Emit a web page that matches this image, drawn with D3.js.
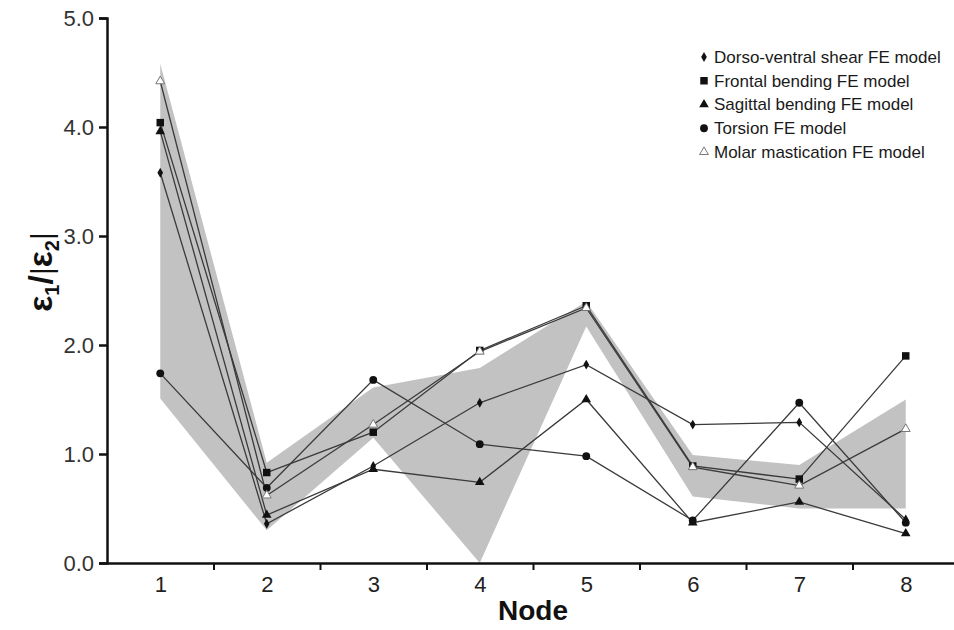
<!doctype html>
<html lang="en">
<head>
    <meta charset="utf-8">
    <title>Strain ratio per node</title>
    <script src="https://cdnjs.cloudflare.com/ajax/libs/d3/7.8.5/d3.min.js" type="text/JavaScript"></script>
    <style>
        body { margin: 0; background: #fff; }
        svg { display: block; }
    </style>
</head>
<body>
<div id="chart"></div>
<script>

    // nodes along the x axis
    const nodes = [1, 2, 3, 4, 5, 6, 7, 8];

    // series values
    const dorsoVentral = [3.58, 0.36, 0.89, 1.47, 1.82, 1.27, 1.29, 0.40];
    const frontal      = [4.04, 0.83, 1.20, 1.95, 2.36, 0.89, 0.77, 1.90];
    const sagittal     = [3.96, 0.44, 0.86, 0.74, 1.50, 0.37, 0.56, 0.27];
    const torsion      = [1.74, 0.69, 1.68, 1.09, 0.98, 0.39, 1.47, 0.37];
    const molar        = [4.42, 0.62, 1.27, 1.94, 2.34, 0.88, 0.71, 1.23];

    // grey band (upper / lower edge)
    const bandUpper = [4.58, 0.92, 1.61, 1.79, 2.40, 0.99, 0.90, 1.50];
    const bandLower = [1.51, 0.30, 1.15, 0.00, 2.17, 0.61, 0.50, 0.50];

    const seriesNames = ["Dorso-ventral shear FE model", "Frontal bending FE model",
        "Sagittal bending FE model", "Torsion FE model", "Molar mastication FE model"];

    const yTicks = [0, 1, 2, 3, 4, 5];

    const series = [
        {name: seriesNames[0], values: dorsoVentral, type: d3.symbolDiamond, size: 28, fill: "#111", stroke: "none"},
        {name: seriesNames[1], values: frontal, type: d3.symbolSquare, size: 56, fill: "#111", stroke: "none"},
        {name: seriesNames[2], values: sagittal, type: d3.symbolTriangle, size: 40, fill: "#111", stroke: "none"},
        {name: seriesNames[3], values: torsion, type: d3.symbolCircle, size: 48, fill: "#111", stroke: "none"},
        {name: seriesNames[4], values: molar, type: d3.symbolTriangle, size: 34, fill: "#fff", stroke: "#777"}
    ];

    const width = 954, height = 630;

    const x = d3.scaleLinear().domain([0.5, 8.5]).range([107, 959]);
    const y = d3.scaleLinear().domain([0, 5]).range([563, 18]);

    const svg = d3.select("#chart").append("svg")
        .attr("width", width)
        .attr("height", height)
        .attr("font-family", "Liberation Sans, Arial, sans-serif");

    // band
    const area = d3.area()
        .x((d, i) => x(nodes[i]))
        .y0((d, i) => y(bandLower[i]))
        .y1(d => y(d));

    svg.append("path")
        .datum(bandUpper)
        .attr("fill", "#c2c2c2")
        .attr("d", area);

    // lines
    const line = d3.line()
        .x((d, i) => x(nodes[i]))
        .y(d => y(d));

    svg.selectAll(".series")
        .data(series)
        .join("path")
        .attr("class", "series")
        .attr("fill", "none")
        .attr("stroke", "#3a3a3a")
        .attr("stroke-width", 1.3)
        .attr("d", d => line(d.values));

    // markers
    series.forEach(s => {
        svg.append("g").selectAll("path")
            .data(s.values)
            .join("path")
            .attr("transform", (d, i) => `translate(${x(nodes[i])},${y(d)})`)
            .attr("d", d3.symbol().type(s.type).size(s.size))
            .attr("fill", s.fill)
            .attr("stroke", s.stroke)
            .attr("stroke-width", 1);
    });

    // y axis
    const yAxis = svg.append("g")
        .attr("transform", `translate(${x(0.5)},0)`)
        .call(d3.axisLeft(y).tickValues(yTicks).tickFormat(d3.format(".1f")).tickSize(8).tickPadding(5));

    yAxis.select(".domain").attr("stroke", "#111").attr("stroke-width", 2.5);
    yAxis.selectAll(".tick line").attr("stroke", "#111").attr("stroke-width", 2.5);
    yAxis.selectAll(".tick text")
        .attr("font-size", 22)
        .attr("fill", "#333")
        .attr("font-family", "Liberation Sans, Arial, sans-serif");

    // x axis: minor ticks between nodes
    const xAxis = svg.append("g")
        .attr("transform", `translate(0,${y(0)})`)
        .call(d3.axisBottom(x).tickValues([1.5, 2.5, 3.5, 4.5, 5.5, 6.5, 7.5]).tickFormat("").tickSize(7).tickSizeOuter(0));

    xAxis.select(".domain").attr("stroke", "#111").attr("stroke-width", 2.5);
    xAxis.selectAll(".tick line").attr("stroke", "#111").attr("stroke-width", 2);

    // x labels at nodes
    const xLabels = svg.append("g")
        .attr("transform", `translate(0,${y(0)})`)
        .call(d3.axisBottom(x).tickValues(nodes).tickFormat(d3.format("d")).tickSize(0).tickPadding(13));

    xLabels.select(".domain").remove();
    xLabels.selectAll(".tick text")
        .attr("font-size", 22)
        .attr("fill", "#222")
        .attr("font-family", "Liberation Sans Narrow, Liberation Sans, Arial, sans-serif");

    // axis titles
    svg.append("text")
        .attr("x", 533)
        .attr("y", 620)
        .attr("text-anchor", "middle")
        .attr("font-size", 28)
        .attr("font-weight", "bold")
        .attr("fill", "#111")
        .text("Node");

    const yTitle = svg.append("text")
        .attr("transform", "translate(52,272) rotate(-90)")
        .attr("text-anchor", "middle")
        .attr("font-size", 34)
        .attr("font-weight", "bold")
        .attr("fill", "#111");

    yTitle.append("tspan").text("ε");
    yTitle.append("tspan").attr("font-size", 20).attr("dy", 7).text("1");
    yTitle.append("tspan").attr("dy", -7).text("/");
    yTitle.append("tspan").attr("font-weight", "normal").attr("font-size", 30).text("|");
    yTitle.append("tspan").text("ε");
    yTitle.append("tspan").attr("font-size", 20).attr("dy", 7).text("2");
    yTitle.append("tspan").attr("font-weight", "normal").attr("font-size", 30).attr("dy", -7).text("|");

    // legend
    const legend = svg.append("g");

    const rowY = d3.scalePoint().domain(seriesNames).range([57, 152]);

    const items = legend.selectAll("g")
        .data(series)
        .join("g")
        .attr("transform", d => `translate(704,${rowY(d.name)})`);

    items.append("path")
        .attr("d", d => d3.symbol().type(d.type).size(d.size)())
        .attr("fill", d => d.fill)
        .attr("stroke", d => d.stroke);

    items.append("text")
        .attr("x", 10)
        .attr("dy", "0.35em")
        .attr("font-size", 17)
        .attr("fill", "#1a1a1a")
        .text(d => d.name);

</script>
</body>
</html>
